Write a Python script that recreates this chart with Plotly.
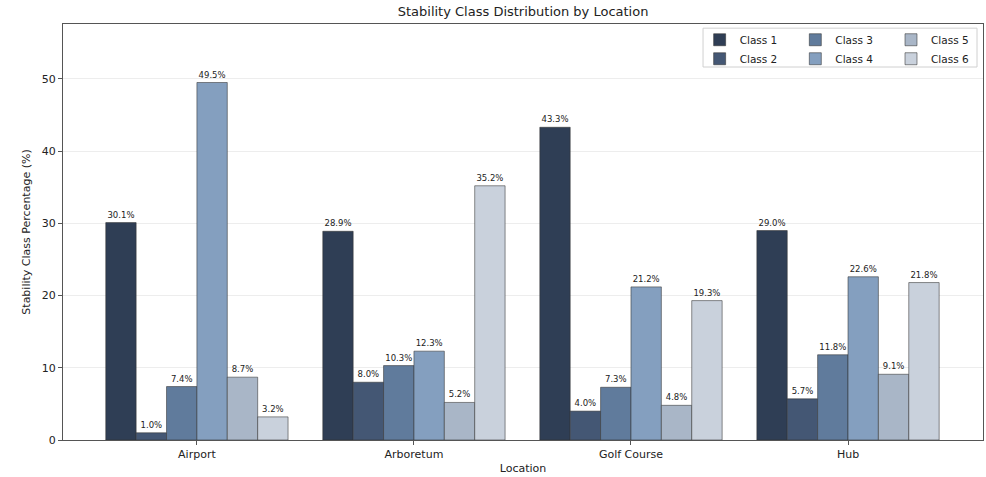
import plotly.graph_objects as go

locations = ["Airport", "Arboretum", "Golf Course", "Hub"]
class_names = ["Class 1", "Class 2", "Class 3", "Class 4", "Class 5", "Class 6"]
class1 = [30.1, 28.9, 43.3, 29.0]
class2 = [1.0, 8.0, 4.0, 5.7]
class3 = [7.4, 10.3, 7.3, 11.8]
class4 = [49.5, 12.3, 21.2, 22.6]
class5 = [8.7, 5.2, 4.8, 9.1]
class6 = [3.2, 35.2, 19.3, 21.8]
series = [class1, class2, class3, class4, class5, class6]

colors = ["#2f3e55", "#445774", "#607b9c", "#849fbf", "#a9b6c7", "#c9d1dc"]
legend_ids = ["legend", "legend", "legend2", "legend2", "legend3", "legend3"]

FONT = "DejaVu Sans"
fig = go.Figure()
for name, vals, col, lg in zip(class_names, series, colors, legend_ids):
    fig.add_trace(go.Bar(
        x=locations, y=vals, name=name, legend=lg,
        marker=dict(color=col, line=dict(color="rgba(50,50,50,0.55)", width=1)),
        text=[f"{v:.1f}%" for v in vals], textposition="outside",
        textfont=dict(size=8.5, color="#222", family=FONT),
        cliponaxis=False,
    ))

leg_common = dict(orientation="v", bgcolor="rgba(0,0,0,0)", borderwidth=0,
                  font=dict(size=10.5, color="#222", family=FONT),
                  xanchor="left", yanchor="top", y=0.997, tracegroupgap=0,
                  itemwidth=30)

fig.update_layout(
    width=986, height=477,
    margin=dict(l=63, r=3, t=24, b=37, autoexpand=False),
    paper_bgcolor="white", plot_bgcolor="white",
    font=dict(family=FONT, size=11, color="#222"),
    title=dict(text="Stability Class Distribution by Location", x=0.5305, xanchor="center",
               y=0.975, yanchor="middle", font=dict(size=13, color="#222", family=FONT)),
    barmode="group", bargap=0.16, bargroupgap=0,
    showlegend=True,
    legend=dict(x=0.692, **leg_common),
    legend2=dict(x=0.796, **leg_common),
    legend3=dict(x=0.900, **leg_common),
    shapes=[dict(type="rect", xref="paper", yref="paper",
                 x0=0.6957, x1=0.9935, y0=0.8966, y1=0.990,
                 line=dict(color="#d0d0d0", width=1), fillcolor="rgba(255,255,255,0.8)",
                 layer="below")],
)
fig.update_xaxes(
    range=[-0.617, 3.622], showline=True, linecolor="#555", linewidth=1, mirror=True,
    ticks="outside", ticklen=4, tickcolor="#555", showgrid=False,
    title=dict(text="Location", font=dict(size=11, color="#222"), standoff=4),
    tickfont=dict(size=11, color="#222"),
)
fig.update_yaxes(
    range=[0, 57.6], showline=True, linecolor="#555", linewidth=1, mirror=True,
    ticks="outside", ticklen=4, tickcolor="#555", dtick=10,
    showgrid=True, gridcolor="#ededed", gridwidth=1, zeroline=False,
    title=dict(text="Stability Class Percentage (%)", font=dict(size=11, color="#222"), standoff=8),
    tickfont=dict(size=11, color="#222"),
)
fig.write_html("out.html", config={"displayModeBar": False},
               post_script="document.body.style.margin='0';document.body.style.overflow='hidden';")
